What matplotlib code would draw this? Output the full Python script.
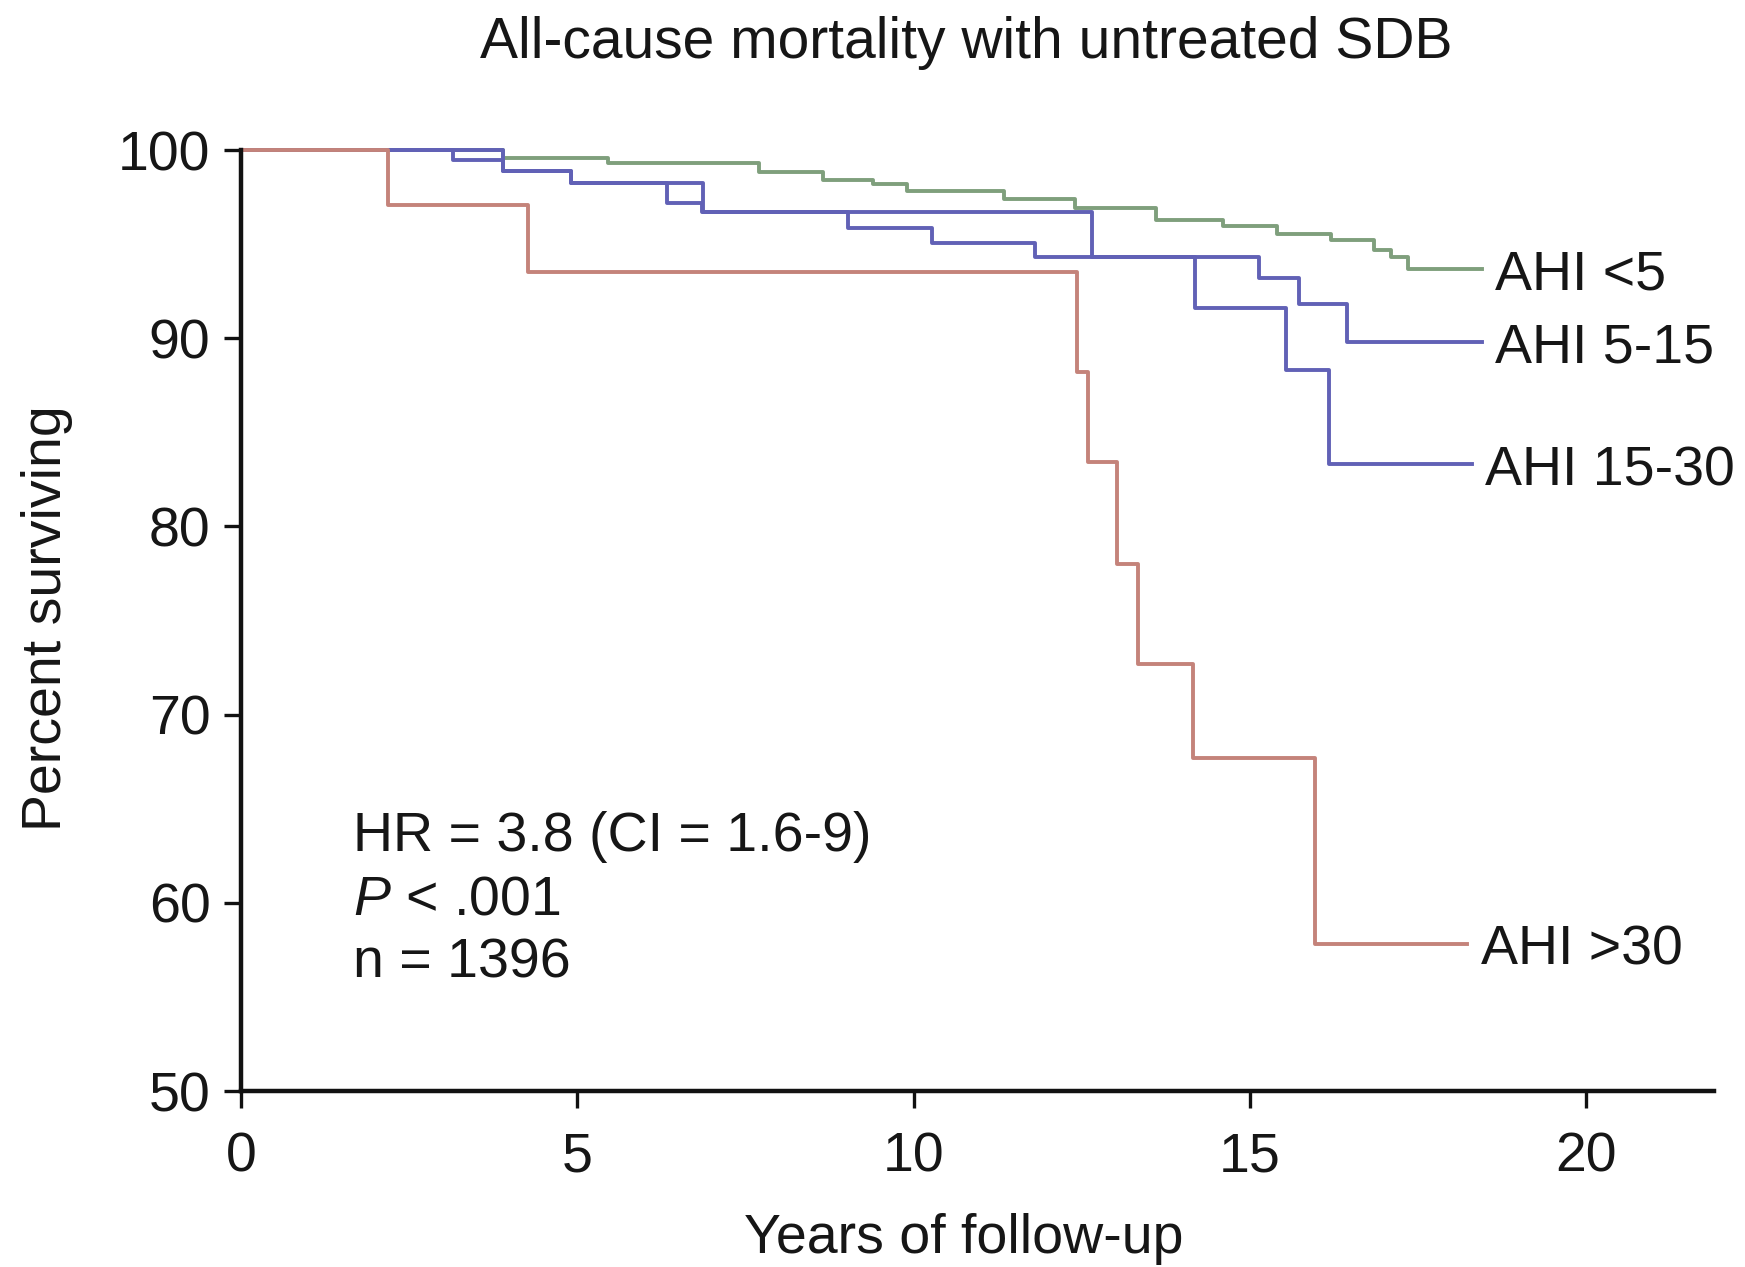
import matplotlib
matplotlib.use("Agg")
import matplotlib.pyplot as plt

plt.rcParams['font.family'] = ['Liberation Sans', 'DejaVu Sans']
plt.rcParams['mathtext.fontset'] = 'custom'
plt.rcParams['mathtext.rm'] = 'Liberation Sans'
plt.rcParams['mathtext.it'] = 'Liberation Sans:italic'

# Kaplan-Meier step curves (years, percent surviving)
green_t = [0, 3.9, 5.45, 7.7, 8.65, 9.4, 9.9, 11.35, 12.4, 13.6, 14.6, 15.4, 16.2, 16.85, 17.1, 17.35]
green_s = [100, 99.6, 99.3, 98.85, 98.4, 98.2, 97.8, 97.4, 96.9, 96.3, 95.95, 95.55, 95.2, 94.7, 94.3, 93.7]
green_end = 18.45

blue1_t = [0, 3.89, 4.9, 6.87, 12.65, 15.13, 15.73, 16.44]
blue1_s = [100, 98.9, 98.24, 96.7, 94.3, 93.2, 91.8, 89.8]
blue1_end = 18.45

blue2_t = [0, 3.15, 3.89, 4.9, 6.33, 6.85, 9.03, 10.27, 11.8, 14.18, 15.53, 16.17]
blue2_s = [100, 99.48, 98.9, 98.24, 97.18, 96.7, 95.84, 95.05, 94.3, 91.6, 88.3, 83.3]
blue2_end = 18.3

red_t = [0, 2.18, 4.27, 12.43, 12.6, 13.02, 13.33, 14.15, 15.97]
red_s = [100, 97.1, 93.5, 88.2, 83.4, 78.0, 72.7, 67.7, 57.8]
red_end = 18.23

labels = ['AHI <5', 'AHI 5-15', 'AHI 15-30', 'AHI >30']
stats = ['HR = 3.8 (CI = 1.6-9)', '$P$ < .001', 'n = 1396']

GREEN = '#7f9f7c'
BLUE = '#6161b6'
RED = '#c4837a'
TXT = '#161616'
FS = 40

fig = plt.figure(figsize=(17.45, 12.67), dpi=100)
ax = fig.add_axes([0.1381, 0.1389, 0.8441, 0.7427])

curves = [
    (green_t, green_s, green_end, GREEN),
    (blue1_t, blue1_s, blue1_end, BLUE),
    (blue2_t, blue2_s, blue2_end, BLUE),
    (red_t, red_s, red_end, RED),
]
for (t, s, end, c), lab in zip(curves, labels):
    ax.step(t + [end], s + [s[-1]], where='post', color=c, lw=2.8, clip_on=False)
    ax.text(end + 0.2, s[-1] - 1.1, lab, fontsize=FS, color=TXT, ha='left', va='baseline')

for i, line in enumerate(stats):
    ax.text(1.67, 62.73 - i * 3.35, line, fontsize=FS, color=TXT, ha='left', va='baseline')

ax.set_xlim(0, 21.9)
ax.set_ylim(50, 100)
ax.set_xticks([0, 5, 10, 15, 20])
ax.set_yticks([50, 60, 70, 80, 90, 100])
ax.spines['top'].set_visible(False)
ax.spines['right'].set_visible(False)
for sp in ['left', 'bottom']:
    ax.spines[sp].set_linewidth(3.2)
    ax.spines[sp].set_color('#111111')
ax.tick_params(axis='both', direction='out', length=12, width=2.4, color='#111111',
               labelsize=FS, labelcolor=TXT)
ax.tick_params(axis='y', pad=10)
ax.tick_params(axis='x', pad=17)

fig.text(0.5536, 0.954, 'All-cause mortality with untreated SDB', fontsize=41,
         color=TXT, ha='center', va='baseline')
fig.text(0.0269, 0.5122, 'Percent surviving', fontsize=FS, color=TXT,
         rotation=90, ha='center', va='center')
fig.text(0.5524, 0.011, 'Years of follow-up', fontsize=FS, color=TXT,
         ha='center', va='baseline')

fig.savefig('out.png', dpi=100)
